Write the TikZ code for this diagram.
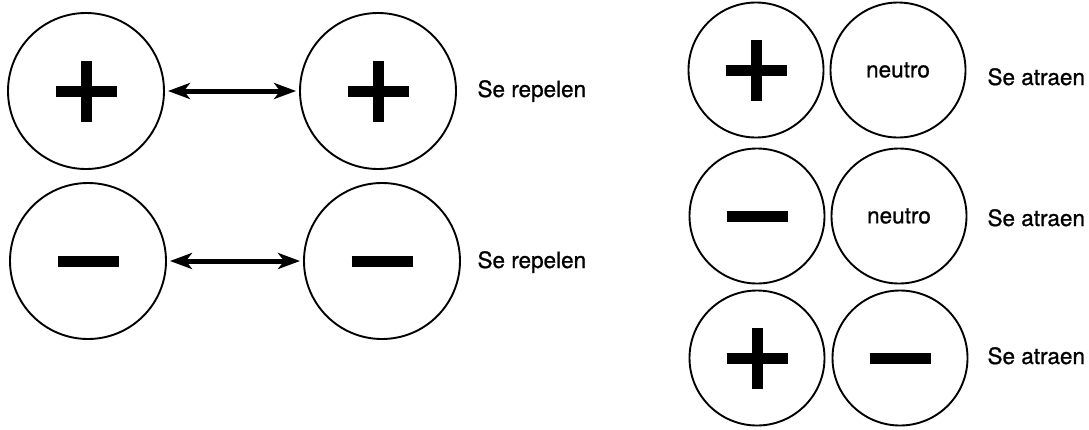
\documentclass[tikz,border=0pt]{standalone}
\usepackage{fontspec}
\setmainfont{TeX Gyre Heros}
\newfontfamily\labelfont[FakeBold=0.9]{TeX Gyre Heros}
\usetikzlibrary{arrows.meta}

\begin{document}
\begin{tikzpicture}[x=1pt, y=1pt,
      big/.style={draw, shape=circle, line width=1.9pt, minimum size=156pt, inner sep=0pt},
      small/.style={draw, shape=circle, line width=1.9pt, minimum size=135pt, inner sep=0pt, font=\labelfont\fontsize{22.5}{26}\selectfont},
      minusbar/.style={path picture={
        \draw[line width=11pt] ([xshift=-30.5pt]path picture bounding box.center) -- ([xshift=30.5pt]path picture bounding box.center);}},
      plusbar/.style={path picture={
        \draw[line width=11pt] ([xshift=-30.5pt]path picture bounding box.center) -- ([xshift=30.5pt]path picture bounding box.center);
        \draw[line width=11pt] ([yshift=-30.5pt]path picture bounding box.center) -- ([yshift=30.5pt]path picture bounding box.center);}},
      txt/.style={anchor=base west, font=\labelfont\fontsize{22.5}{26}\selectfont},
      force/.style={<->, >={Stealth[length=22pt,width=16pt,inset=6pt]}, line width=5pt, shorten <=3pt, shorten >=3pt}]
      \useasboundingbox (0,0) rectangle (1089,-429);
      % se repelen
      \node at (86,-91)[big,plusbar] (pa){};
      \node at (378,-91)[big,plusbar] (pb){};
      \node at (88,-261)[big,minusbar] (ma){};
      \node at (382,-261)[big,minusbar] (mb){};
      \node at (474,-97)[txt] (ra){Se repelen};
      \node at (474,-268)[txt] (rb){Se repelen};
      \draw[force] (pa) -- (pb);
      \draw[force] (ma) -- (mb);
      % se atraen
      \node at (756,-70)[small,plusbar] (pc){};
      \node at (898,-70)[small] (na){neutro};
      \node at (757,-216)[small,minusbar] (mc){};
      \node at (899,-216)[small] (nb){neutro};
      \node at (757,-358)[small,plusbar] (pd){};
      \node at (900,-358)[small,minusbar] (md){};
      \node at (984,-85)[txt] (aa){Se atraen};
      \node at (984,-226)[txt] (ab){Se atraen};
      \node at (984,-364)[txt] (ac){Se atraen};
\end{tikzpicture}
\end{document}
